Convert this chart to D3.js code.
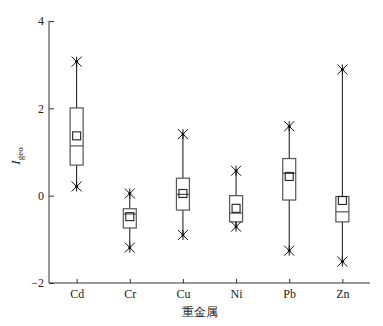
<!DOCTYPE html>
<html>
<head>
<meta charset="utf-8">
<script src="https://cdn.jsdelivr.net/npm/d3@7"></script>
<style>
  body { margin: 0; background: #fff; }
  text { font-family: "Liberation Serif", "DejaVu Serif", serif; }
</style>
</head>
<body>
<svg id="chart" width="383" height="326"></svg>
<script>
// heavy metals and their Igeo box stats
var metals = ["Cd", "Cr", "Cu", "Ni", "Pb", "Zn"];
var minVals = [0.21, -1.19, -0.90, -0.71, -1.26, -1.51];
var q1Vals = [0.70, -0.74, -0.33, -0.60, -0.10, -0.60];
var medianVals = [1.14, -0.42, 0.03, -0.40, 0.51, -0.37];
var meanVals = [1.37, -0.48, 0.05, -0.29, 0.44, -0.11];
var q3Vals = [2.01, -0.30, 0.40, 0.00, 0.85, -0.02];
var maxVals = [3.07, 0.05, 1.41, 0.57, 1.59, 2.89];
var yTicks = [-2, 0, 2, 4];

var svg = d3.select('#chart');
var padL = 49, padR = 370, padT = 21, padB = 283;

var x = d3.scalePoint()
    .domain(metals)
    .range([padL, padR])
    .padding(0.52);

var y = d3.scaleLinear()
    .domain([-2, 4])
    .range([padB, padT]);

var stroke = '#333';

// axes
var yAxis = svg.append('g')
    .attr('transform', 'translate(' + padL + ',0)')
    .call(d3.axisRight(y).tickValues(yTicks).tickSize(5).tickFormat(d => d < 0 ? '\u2212' + Math.abs(d) : d));
yAxis.select('.domain').attr('d', 'M0,' + padT + 'V' + padB).attr('stroke', stroke);
yAxis.selectAll('.tick line').attr('stroke', stroke);
yAxis.selectAll('.tick text')
    .attr('x', -5)
    .attr('text-anchor', 'end')
    .attr('font-size', 12)
    .attr('font-family', '"Liberation Serif", serif')
    .attr('fill', '#222');

var xAxis = svg.append('g')
    .attr('transform', 'translate(0,' + padB + ')')
    .call(d3.axisTop(x).tickSize(4));
xAxis.select('.domain').attr('d', 'M' + padL + ',0H' + padR).attr('stroke', stroke);
xAxis.selectAll('.tick line').attr('stroke', stroke);
xAxis.selectAll('.tick text')
    .attr('y', 15)
    .attr('dy', 0)
    .attr('font-size', 12)
    .attr('font-family', '"Liberation Serif", serif')
    .attr('fill', '#222');

// axis titles
svg.append('text')
    .attr('x', 200)
    .attr('y', 316)
    .attr('text-anchor', 'middle')
    .attr('font-size', 12)
    .attr('font-family', '"Noto Sans CJK SC", sans-serif')
    .attr('fill', '#222')
    .text('重金属');

var yTitle = svg.append('text')
    .attr('transform', 'translate(20,156) rotate(-90)')
    .attr('text-anchor', 'middle')
    .attr('font-size', 13)
    .attr('fill', '#222');
yTitle.append('tspan').attr('font-style', 'italic').text('I');
yTitle.append('tspan').attr('font-size', 9).attr('dy', 3).text('geo');

// boxes
var boxW = 13, meanS = 8, star = 5;
var data = metals.map((m, i) => ({
    name: m, min: minVals[i], q1: q1Vals[i], med: medianVals[i],
    mean: meanVals[i], q3: q3Vals[i], max: maxVals[i]
}));

var g = svg.selectAll('.box')
    .data(data)
    .enter().append('g')
    .attr('class', 'box')
    .attr('transform', d => 'translate(' + x(d.name) + ',0)');

// whiskers
g.append('line')
    .attr('x1', 0).attr('x2', 0)
    .attr('y1', d => y(d.max)).attr('y2', d => y(d.q3))
    .attr('stroke', '#111');
g.append('line')
    .attr('x1', 0).attr('x2', 0)
    .attr('y1', d => y(d.q1)).attr('y2', d => y(d.min))
    .attr('stroke', '#111');

g.append('rect')
    .attr('x', -boxW / 2)
    .attr('width', boxW)
    .attr('y', d => y(d.q3))
    .attr('height', d => y(d.q1) - y(d.q3))
    .attr('fill', '#fff')
    .attr('stroke', '#555')
    .attr('stroke-width', 1.2);

g.append('line')
    .attr('x1', -boxW / 2).attr('x2', boxW / 2)
    .attr('y1', d => y(d.med)).attr('y2', d => y(d.med))
    .attr('stroke', '#555')
    .attr('stroke-width', 1.2);

g.append('rect')
    .attr('x', -meanS / 2)
    .attr('width', meanS)
    .attr('y', d => y(d.mean) - meanS / 2)
    .attr('height', meanS)
    .attr('fill', 'none')
    .attr('stroke', '#222')
    .attr('stroke-width', 1.1);

// asterisks at min and max
['min', 'max'].forEach(function (k) {
    var s = g.append('g')
        .attr('transform', d => 'translate(0,' + y(d[k]) + ')');
    s.append('path')
        .attr('d', 'M' + -star + ',' + -star + 'L' + star + ',' + star +
            'M' + -star + ',' + star + 'L' + star + ',' + -star +
            'M0,' + -star + 'V' + star)
        .attr('stroke', '#111')
        .attr('stroke-width', 1);
    s.append('circle').attr('r', 1.5).attr('fill', '#111');
});
</script>
</body>
</html>
